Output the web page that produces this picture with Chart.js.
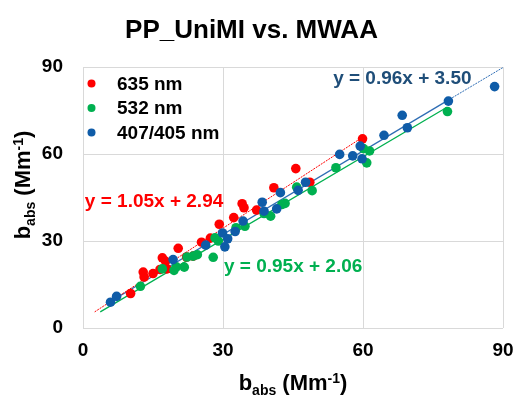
<!DOCTYPE html>
<html>
<head>
<meta charset="utf-8">
<script src="https://cdn.jsdelivr.net/npm/chart.js@4/dist/chart.umd.min.js"></script>
<style>
  html, body { margin: 0; padding: 0; background: #fff; }
  #wrap { width: 514px; height: 397px; }
</style>
</head>
<body>
<div id="wrap"><canvas id="scatterChart" width="514" height="397"></canvas></div>
<script>
// series names
const seriesNames = ['635 nm', '532 nm', '407/405 nm'];

// 635 nm (x = MWAA, y = PP_UniMI)
const redX = [10.2, 12.9, 13.1, 15.0, 16.5, 17.0, 17.7, 18.0, 20.4, 22.2, 23.6, 25.4, 27.3, 29.2, 32.3, 34.1, 34.5, 37.2, 40.9, 45.6, 48.6, 59.9];
const redY = [11.9, 19.3, 17.6, 18.8, 20.2, 24.2, 23.0, 20.4, 27.5, 24.5, 24.8, 29.6, 31.0, 35.8, 38.1, 42.9, 41.5, 40.7, 48.4, 55.0, 50.3, 65.3];

// 532 nm
const greenX = [12.3, 17.0, 19.5, 20.0, 21.7, 22.3, 23.6, 24.5, 27.9, 28.3, 29.0, 32.8, 34.7, 38.8, 40.2, 42.6, 43.3, 45.8, 49.1, 54.2, 60.1, 61.4, 60.8, 78.1];
const greenY = [14.4, 20.4, 19.9, 21.1, 21.0, 24.5, 24.8, 25.3, 24.4, 31.1, 30.0, 34.6, 35.1, 39.5, 38.6, 42.6, 43.0, 48.6, 47.4, 55.3, 61.9, 61.1, 57.0, 74.7];

// 407/405 nm
const blueX = [5.9, 7.2, 19.3, 26.3, 29.9, 31.0, 30.4, 32.6, 34.3, 38.4, 38.8, 41.5, 42.3, 46.1, 47.7, 55.0, 57.8, 59.4, 59.8, 64.5, 68.4, 69.5, 78.3, 88.2];
const blueY = [8.9, 10.9, 23.6, 28.6, 32.8, 30.8, 28.0, 33.3, 36.9, 43.4, 40.3, 41.1, 46.7, 47.5, 50.3, 59.9, 59.4, 62.8, 58.4, 66.5, 73.4, 69.1, 78.3, 83.3];

// linear fits shown on the chart
const fitSlope = [1.05, 0.95, 0.96];
const fitIntercept = [2.94, 2.06, 3.50];
const fitFrom = [2.5, 3.7, 5.0];
const fitTo = [60.0, 78.0, 78.0];
const blueExtendTo = 90;

// axis ticks
const tickValues = [0, 30, 60, 90];

const colors = ['#ff0000', '#00b050', '#0f5ca8'];
const eqColors = ['#ff0000', '#00b050', '#1f4e79'];
const FONT = 'Arial, "Liberation Sans", sans-serif';

function pts(xs, ys) {
    return xs.map((x, i) => ({ x: x, y: ys[i] }));
}
function fitLine(i, a, b) {
    return [
        { x: a, y: fitSlope[i] * a + fitIntercept[i] },
        { x: b, y: fitSlope[i] * b + fitIntercept[i] }
    ];
}
function eqText(i) {
    return 'y = ' + fitSlope[i].toFixed(2) + 'x + ' + fitIntercept[i].toFixed(2);
}

// legend + equations + axis titles with sub/superscripts
const extrasPlugin = {
    id: 'extras',
    afterDraw(chart) {
        const ctx = chart.ctx;
        const xs = chart.scales.x, ys = chart.scales.y;
        ctx.save();

        // legend inside the plot, top left
        ctx.textBaseline = 'middle';
        ctx.textAlign = 'left';
        ctx.font = 'bold 19px ' + FONT;
        seriesNames.forEach((name, i) => {
            const y = 83.5 + i * 24.5;
            ctx.fillStyle = colors[i];
            ctx.beginPath();
            ctx.arc(91.5, y, 4, 0, Math.PI * 2);
            ctx.fill();
            ctx.fillStyle = '#000';
            ctx.fillText(name, 117, y + 1);
        });

        // fit equations
        const eqPos = [[0.4, 43.4], [30.2, 21.3], [53.6, 85.9]];
        eqPos.forEach((p, i) => {
            ctx.fillStyle = eqColors[i];
            ctx.fillText(eqText(i), xs.getPixelForValue(p[0]), ys.getPixelForValue(p[1]));
        });

        // axis title: b_abs (Mm^-1)
        function drawTitle(cx, cy) {
            const parts = [
                { t: 'b', f: 'bold 22px ', dy: 0 },
                { t: 'abs', f: 'bold 14px ', dy: 5 },
                { t: ' (Mm', f: 'bold 22px ', dy: 0 },
                { t: '-1', f: 'bold 14px ', dy: -7 },
                { t: ')', f: 'bold 22px ', dy: 0 }
            ];
            let w = 0;
            parts.forEach(p => { ctx.font = p.f + FONT; w += ctx.measureText(p.t).width; });
            let x = cx - w / 2;
            ctx.fillStyle = '#000';
            ctx.textAlign = 'left';
            ctx.textBaseline = 'alphabetic';
            parts.forEach(p => {
                ctx.font = p.f + FONT;
                ctx.fillText(p.t, x, cy + p.dy);
                x += ctx.measureText(p.t).width;
            });
        }
        drawTitle((chart.chartArea.left + chart.chartArea.right) / 2, 390);
        ctx.translate(30, 185);
        ctx.rotate(-Math.PI / 2);
        drawTitle(0, 0);

        ctx.restore();
    }
};

const ctx = document.getElementById('scatterChart').getContext('2d');

const scatterChart = new Chart(ctx, {
    type: 'scatter',
    data: {
        datasets: [
            {
                label: seriesNames[2],
                data: pts(blueX, blueY),
                backgroundColor: colors[2],
                pointRadius: 4.8,
                borderWidth: 0,
                order: 1
            },
            {
                label: seriesNames[1],
                data: pts(greenX, greenY),
                backgroundColor: colors[1],
                pointRadius: 4.8,
                borderWidth: 0,
                order: 2
            },
            {
                label: seriesNames[0],
                data: pts(redX, redY),
                backgroundColor: colors[0],
                pointRadius: 4.8,
                borderWidth: 0,
                order: 3
            },
            {
                type: 'line',
                data: fitLine(0, fitFrom[0], fitTo[0]),
                borderColor: colors[0],
                borderWidth: 1,
                borderDash: [2, 1],
                pointRadius: 0,
                order: 4
            },
            {
                type: 'line',
                data: fitLine(1, fitFrom[1], fitTo[1]),
                borderColor: colors[1],
                borderWidth: 1.3,
                pointRadius: 0,
                order: 5
            },
            {
                type: 'line',
                data: fitLine(2, fitFrom[2], fitTo[2]),
                borderColor: '#2e6db4',
                borderWidth: 1.3,
                pointRadius: 0,
                order: 6
            },
            {
                type: 'line',
                data: fitLine(2, fitTo[2], blueExtendTo),
                borderColor: '#2e6db4',
                borderWidth: 1,
                borderDash: [2, 1],
                pointRadius: 0,
                order: 7
            }
        ]
    },
    options: {
        responsive: false,
        animation: false,
        layout: { padding: { left: 0, right: 11, top: 0, bottom: 0 } },
        plugins: {
            legend: { display: false },
            tooltip: { enabled: false },
            title: {
                display: true,
                text: 'PP_UniMI vs. MWAA',
                color: '#000',
                font: { family: FONT, size: 26, weight: 'bold', lineHeight: 1.2 },
                padding: { top: 15, bottom: 21 }
            }
        },
        scales: {
            x: {
                type: 'linear',
                min: 0,
                max: 90,
                afterBuildTicks(scale) { scale.ticks = tickValues.map(v => ({ value: v })); },
                afterFit(scale) {
                    scale.height = 69;
                    scale.paddingLeft = 0;
                    scale.paddingRight = 0;
                },
                ticks: {
                    color: '#000',
                    padding: 11,
                    font: { family: FONT, size: 19, weight: 'bold' }
                },
                grid: { color: '#d9d9d9', drawTicks: false },
                border: { display: false }
            },
            y: {
                type: 'linear',
                min: 0,
                max: 90,
                afterBuildTicks(scale) { scale.ticks = tickValues.map(v => ({ value: v })); },
                afterFit(scale) {
                    scale.width = 83;
                    scale.paddingTop = 0;
                    scale.paddingBottom = 0;
                },
                ticks: {
                    color: '#000',
                    padding: 20,
                    font: { family: FONT, size: 19, weight: 'bold' }
                },
                grid: { color: '#d9d9d9', drawTicks: false },
                border: { display: false }
            }
        }
    },
    plugins: [extrasPlugin]
});
</script>
</body>
</html>
